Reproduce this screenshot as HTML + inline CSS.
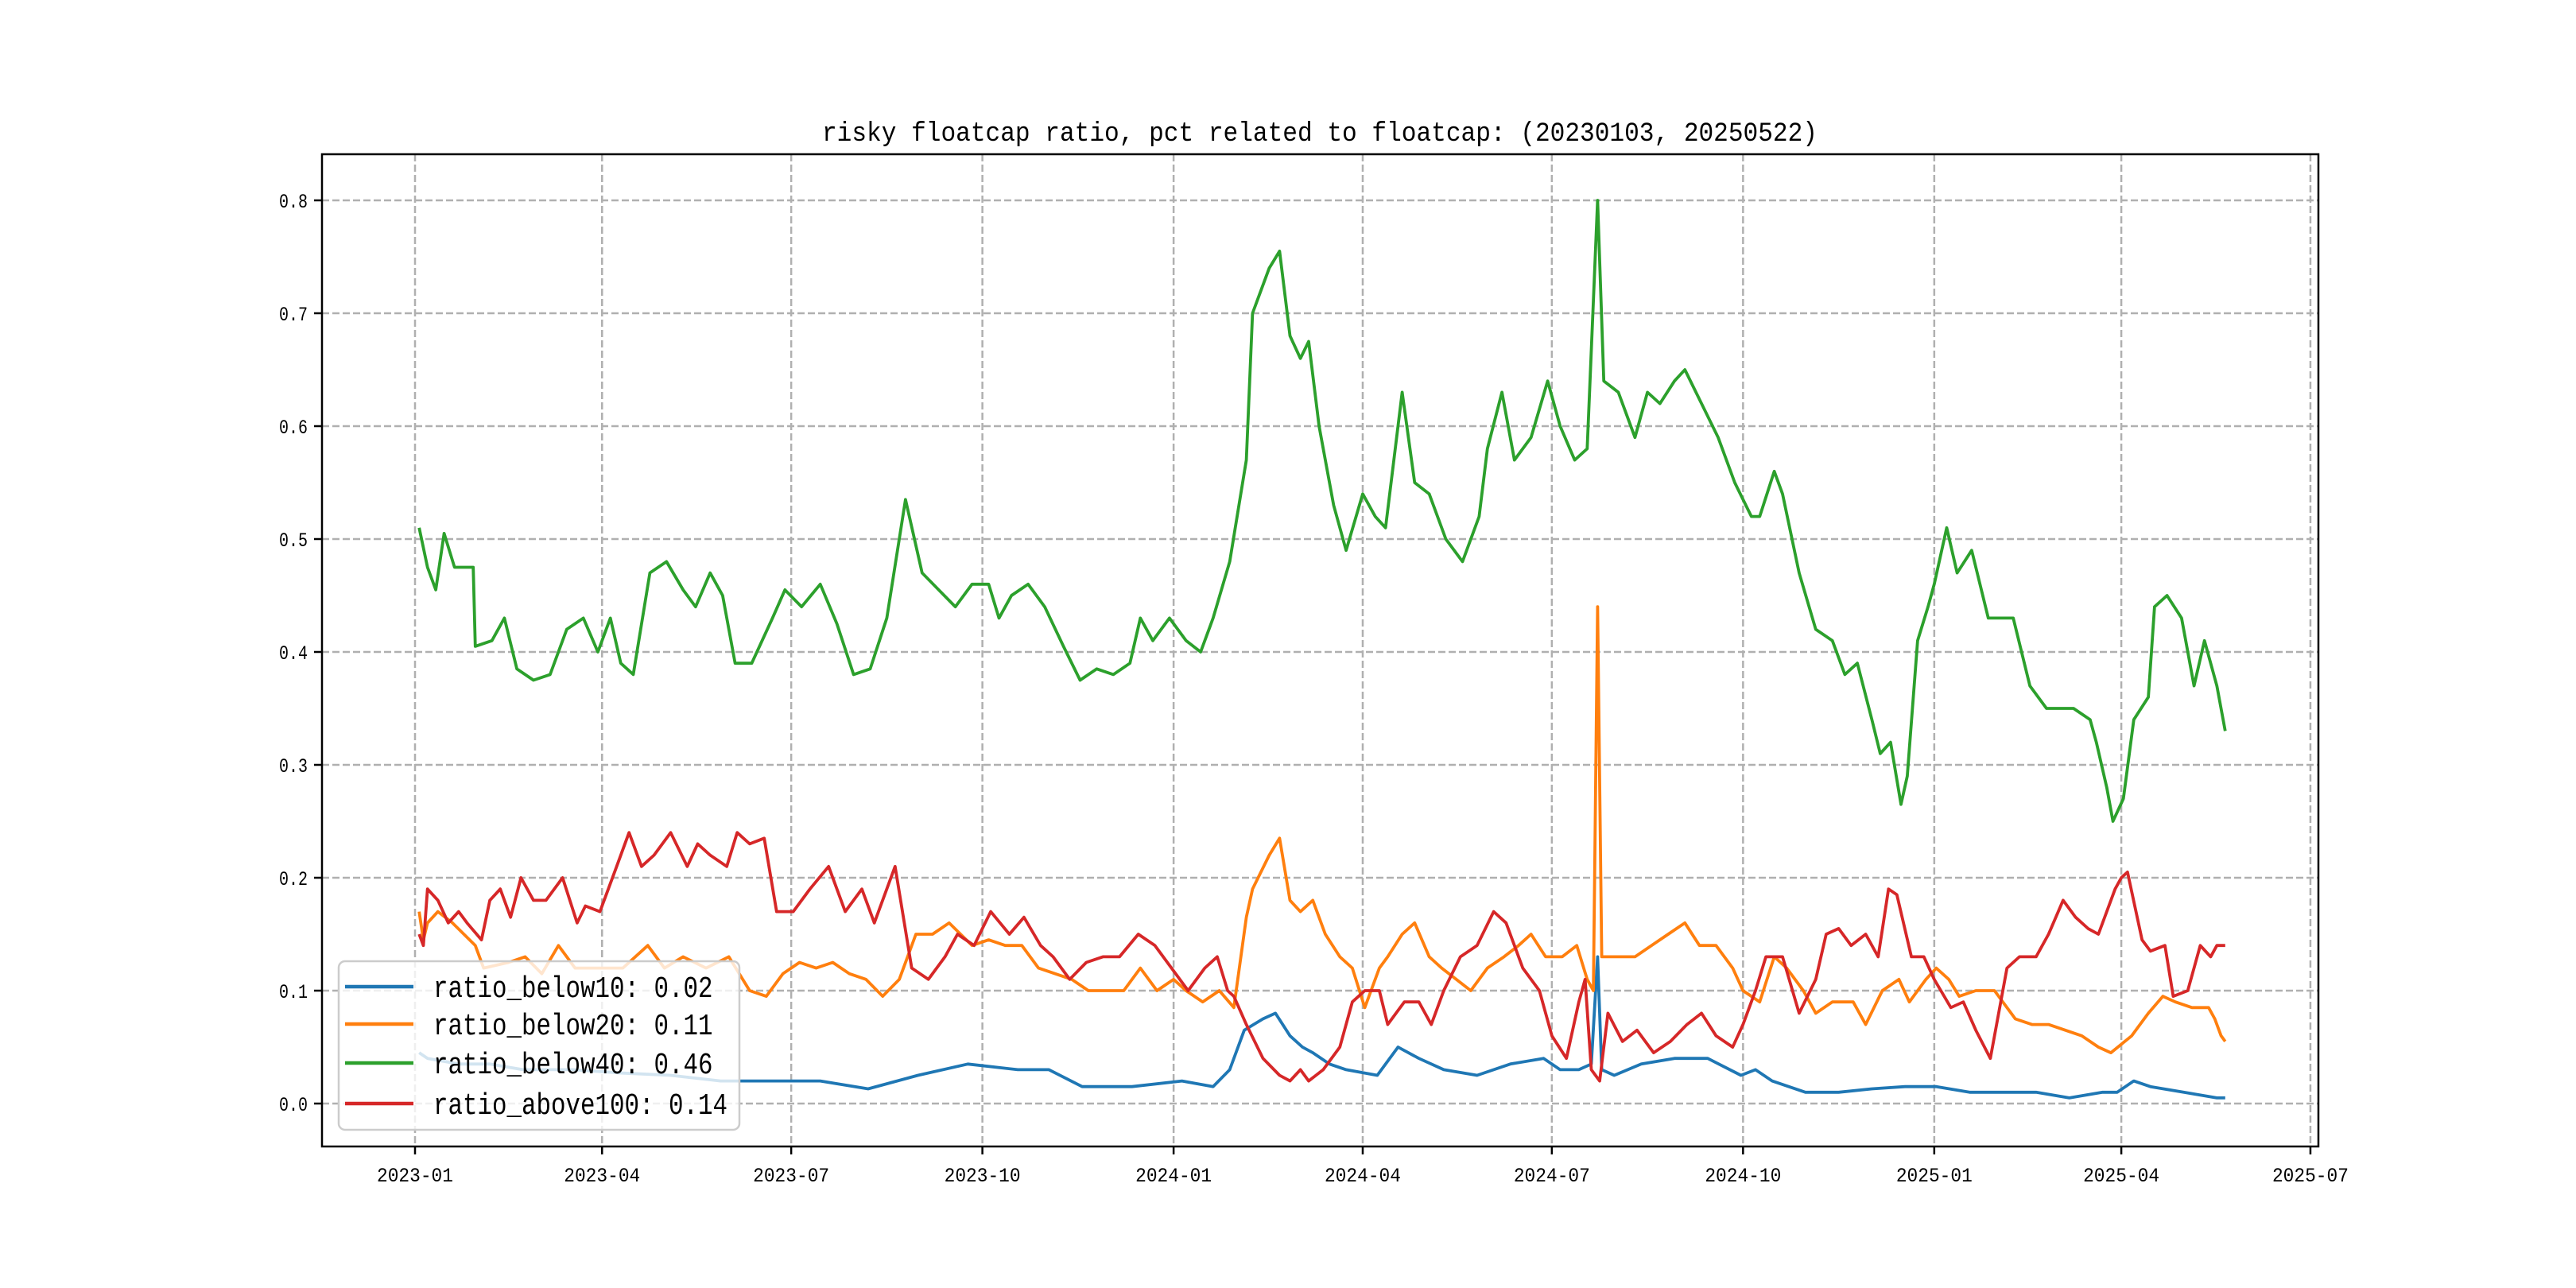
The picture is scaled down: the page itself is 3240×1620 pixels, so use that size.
<!DOCTYPE html>
<html><head><meta charset="utf-8"><style>
html,body{margin:0;padding:0;background:#fff;}
svg{display:block;}
text{font-family:"Liberation Mono","Noto Sans CJK SC",monospace;fill:#000;}
</style></head><body>
<svg id="chart" width="3240" height="1620" viewBox="0 0 3240 1620" xmlns="http://www.w3.org/2000/svg">
<rect x="0" y="0" width="3240" height="1620" fill="#fff"/>
<g id="grid"></g>
<g id="series"></g>
<rect x="405" y="194" width="2511" height="1248" fill="none" stroke="#000" stroke-width="2.5"/>
<g id="ticks"></g>
<text x="1660" y="177" font-size="34" text-anchor="middle" textLength="1252" lengthAdjust="spacingAndGlyphs">risky floatcap ratio, pct related to floatcap: (20230103, 20250522)</text>
<g id="legend">
<rect x="426" y="1209" width="504" height="212" rx="8" fill="#fff" fill-opacity="0.8" stroke="#cccccc" stroke-width="2.5"/>
</g>
</svg>
<script>
const greenDays=[2,6,10,14,19,28,29,37,43,49,57,65,73,81,88,94,99,105,113,121,129,135,142,148,154,162,172,178,186,195,203,211,219,227,236,244,252,260,268,276,281,287,295,303,312,320,328,336,344,349,355,363,371,378,384,392,400,403,411,416,421,426,430,435,442,448,456,462,467,475,481,488,496,504,512,516,523,529,537,545,551,558,564,569,572,579,587,593,599,606,611,619,627,635,643,647,654,658,666,674,682,688,694,701,705,710,715,718,723,728,731,737,742,749,757,769,777,785,792,798,806,809,814,817,822,827,834,837,843,850,856,861,867,871];
const greenVals=[0.51,0.475,0.455,0.505,0.475,0.475,0.405,0.41,0.43,0.385,0.375,0.38,0.42,0.43,0.40,0.43,0.39,0.38,0.47,0.48,0.455,0.44,0.47,0.45,0.39,0.39,0.43,0.455,0.44,0.46,0.425,0.38,0.385,0.43,0.535,0.47,0.455,0.44,0.46,0.46,0.43,0.45,0.46,0.44,0.405,0.375,0.385,0.38,0.39,0.43,0.41,0.43,0.41,0.40,0.43,0.48,0.57,0.70,0.74,0.755,0.68,0.66,0.675,0.60,0.53,0.49,0.54,0.52,0.51,0.63,0.55,0.54,0.50,0.48,0.52,0.58,0.63,0.57,0.59,0.64,0.60,0.57,0.58,0.80,0.64,0.63,0.59,0.63,0.62,0.64,0.65,0.62,0.59,0.55,0.52,0.52,0.56,0.54,0.47,0.42,0.41,0.38,0.39,0.34,0.31,0.32,0.265,0.29,0.41,0.44,0.46,0.51,0.47,0.49,0.43,0.43,0.37,0.35,0.35,0.35,0.34,0.32,0.28,0.25,0.27,0.34,0.36,0.44,0.45,0.43,0.37,0.41,0.37,0.33];
const orangeDays=[2,4,6,11,18,29,33,45,53,61,69,77,84,92,100,112,120,129,140,151,161,169,177,185,193,201,209,217,225,233,241,249,257,268,276,284,292,300,308,316,324,333,341,349,357,365,371,379,387,394,400,403,411,416,421,426,432,438,445,451,457,464,468,475,481,488,494,501,508,516,524,531,537,544,552,559,564,567,569,571,579,587,595,603,611,618,626,634,639,647,654,660,668,674,682,692,698,706,714,719,727,732,738,743,751,760,770,778,786,794,802,810,816,826,834,841,847,855,863,866,869,871];
const orangeVals=[0.17,0.145,0.16,0.17,0.16,0.14,0.12,0.125,0.13,0.115,0.14,0.12,0.12,0.12,0.12,0.14,0.12,0.13,0.12,0.13,0.10,0.095,0.115,0.125,0.12,0.125,0.115,0.11,0.095,0.11,0.15,0.15,0.16,0.14,0.145,0.14,0.14,0.12,0.115,0.11,0.10,0.10,0.10,0.12,0.10,0.11,0.10,0.09,0.10,0.085,0.165,0.19,0.22,0.235,0.18,0.17,0.18,0.15,0.13,0.12,0.085,0.12,0.13,0.15,0.16,0.13,0.12,0.11,0.10,0.12,0.13,0.14,0.15,0.13,0.13,0.14,0.11,0.10,0.44,0.13,0.13,0.13,0.14,0.15,0.16,0.14,0.14,0.12,0.10,0.09,0.13,0.12,0.10,0.08,0.09,0.09,0.07,0.10,0.11,0.09,0.11,0.12,0.11,0.095,0.10,0.10,0.075,0.07,0.07,0.065,0.06,0.05,0.045,0.06,0.08,0.095,0.09,0.085,0.085,0.075,0.06,0.055];
const redDays=[2,4,6,11,16,21,25,32,36,41,46,51,57,63,71,78,82,89,97,103,109,115,123,131,136,142,150,155,161,168,174,182,190,199,207,215,221,231,239,247,255,261,269,277,286,293,301,307,315,323,331,339,348,356,364,372,380,386,391,394,400,408,416,421,426,430,437,445,451,457,464,468,476,483,489,495,503,511,519,525,533,541,547,554,560,563,566,570,574,581,588,596,604,612,619,626,634,639,645,650,658,666,674,679,685,691,698,704,709,713,720,726,731,739,745,751,758,766,772,780,786,793,799,805,810,818,821,824,831,835,842,846,853,859,864,867,871];
const redVals=[0.15,0.14,0.19,0.18,0.16,0.17,0.16,0.145,0.18,0.19,0.165,0.20,0.18,0.18,0.20,0.16,0.175,0.17,0.21,0.24,0.21,0.22,0.24,0.21,0.23,0.22,0.21,0.24,0.23,0.235,0.17,0.17,0.19,0.21,0.17,0.19,0.16,0.21,0.12,0.11,0.13,0.15,0.14,0.17,0.15,0.165,0.14,0.13,0.11,0.125,0.13,0.13,0.15,0.14,0.12,0.10,0.12,0.13,0.10,0.095,0.07,0.04,0.025,0.02,0.03,0.02,0.03,0.05,0.09,0.10,0.10,0.07,0.09,0.09,0.07,0.10,0.13,0.14,0.17,0.16,0.12,0.10,0.06,0.04,0.09,0.11,0.03,0.02,0.08,0.055,0.065,0.045,0.055,0.07,0.08,0.06,0.05,0.07,0.10,0.13,0.13,0.08,0.11,0.15,0.155,0.14,0.15,0.13,0.19,0.185,0.13,0.13,0.11,0.085,0.09,0.065,0.04,0.12,0.13,0.13,0.15,0.18,0.165,0.155,0.15,0.19,0.20,0.205,0.145,0.135,0.14,0.095,0.10,0.14,0.13,0.14,0.14];
const blueDays=[2,6,21,36,52,76,100,123,147,171,195,218,242,266,290,305,321,345,369,384,392,399,408,414,421,427,432,440,448,463,473,483,495,511,527,543,551,560,566,569,571,577,590,606,622,638,645,653,669,685,701,717,732,748,764,780,796,812,819,827,835,851,867,871];
const blueVals=[0.045,0.04,0.035,0.035,0.03,0.03,0.027,0.025,0.02,0.02,0.02,0.013,0.025,0.035,0.03,0.03,0.015,0.015,0.02,0.015,0.03,0.065,0.075,0.08,0.06,0.05,0.045,0.035,0.03,0.025,0.05,0.04,0.03,0.025,0.035,0.04,0.03,0.03,0.035,0.13,0.03,0.025,0.035,0.04,0.04,0.025,0.03,0.02,0.01,0.01,0.013,0.015,0.015,0.01,0.01,0.01,0.005,0.01,0.01,0.02,0.015,0.01,0.005,0.005];
const xTickDays=[0,90,181,273,365,456,547,639,731,821,912];
const xTickLabels=["2023-01","2023-04","2023-07","2023-10","2024-01","2024-04","2024-07","2024-10","2025-01","2025-04","2025-07"];
const yTicks=[0,0.1,0.2,0.3,0.4,0.5,0.6,0.7,0.8];
const yTickLabels=["0.0","0.1","0.2","0.3","0.4","0.5","0.6","0.7","0.8"];
const legendLabels=["ratio_below10: 0.02","ratio_below20: 0.11","ratio_below40: 0.46","ratio_above100: 0.14"];

const NS="http://www.w3.org/2000/svg";
function xs(d){return 522+d*2.614;}
function ys(v){return 1388-v*1420;}
function mk(tag,attrs,parent){const e=document.createElementNS(NS,tag);for(const k in attrs)e.setAttribute(k,attrs[k]);parent.appendChild(e);return e;}
const grid=document.getElementById('grid'),ticks=document.getElementById('ticks'),series=document.getElementById('series'),legend=document.getElementById('legend');
xTickDays.forEach((d,i)=>{
  const x=xs(d);
  const g=mk('line',{x1:x,x2:x,y1:194,y2:1442,stroke:'#b0b0b0','stroke-width':2.5,'stroke-dasharray':'9,4'},grid);
  
  
  const t=mk('line',{x1:x,x2:x,y1:1442,y2:1452,stroke:'#000','stroke-width':2.5},ticks);
  
  
  const l=mk('text',{x:x,y:1486,'font-size':25,'text-anchor':'middle',textLength:96,lengthAdjust:'spacingAndGlyphs'},ticks);
  l.textContent=xTickLabels[i];
  
  
});
yTicks.forEach((v,i)=>{
  const y=ys(v);
  const g=mk('line',{x1:405,x2:2916,y1:y,y2:y,stroke:'#b0b0b0','stroke-width':2.5,'stroke-dasharray':'9,4'},grid);
  
  
  const t=mk('line',{x1:395,x2:405,y1:y,y2:y,stroke:'#000','stroke-width':2.5},ticks);
  
  
  const l=mk('text',{x:387,y:y+9,'font-size':25,'text-anchor':'end',textLength:36,lengthAdjust:'spacingAndGlyphs'},ticks);
  l.textContent=yTickLabels[i];
  
  
});
const defs=[[blueDays,blueVals,'#1f77b4','series-ratio-below10'],[orangeDays,orangeVals,'#ff7f0e','series-ratio-below20'],[greenDays,greenVals,'#2ca02c','series-ratio-below40'],[redDays,redVals,'#d62728','series-ratio-above100']];
defs.forEach(([dd,vv,c,n])=>{
  const pts=dd.map((d,i)=>xs(d).toFixed(1)+','+ys(vv[i]).toFixed(1)).join(' ');
  const p=mk('polyline',{points:pts,fill:'none',stroke:c,'stroke-width':3.8,'stroke-linejoin':'round'},series);
  
  
});
const rowY=[1241,1288,1337,1388];
const colors=['#1f77b4','#ff7f0e','#2ca02c','#d62728'];
legendLabels.forEach((lab,i)=>{
  const ln=mk('line',{x1:434,x2:520,y1:rowY[i],y2:rowY[i],stroke:colors[i],'stroke-width':4.5},legend);
  
  
  const t=mk('text',{x:545,y:rowY[i]+13,'font-size':38,textLength:(lab.length*18.5),lengthAdjust:'spacingAndGlyphs'},legend);
  t.textContent=lab;
  
  
});
</script>
</body></html>
